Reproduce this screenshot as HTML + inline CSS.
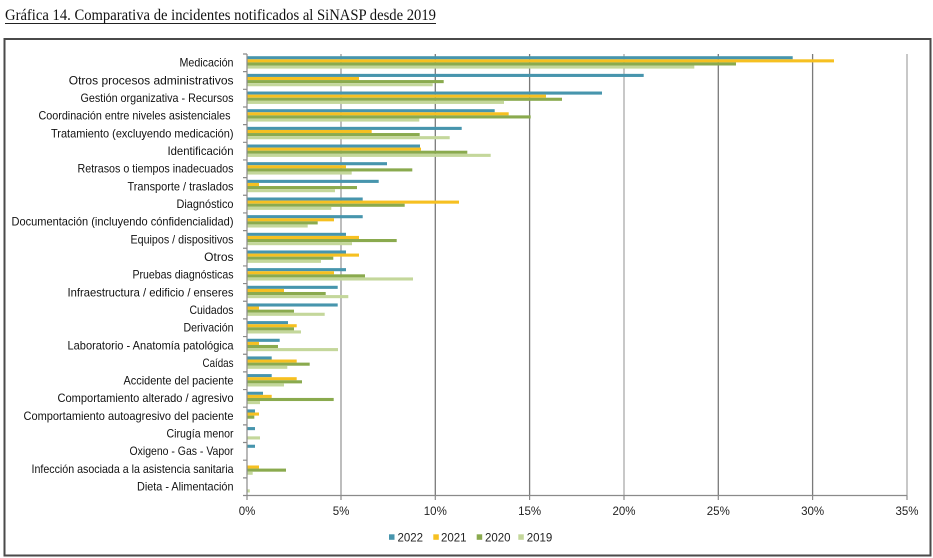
<!DOCTYPE html>
<html><head><meta charset="utf-8"><style>
html,body{margin:0;padding:0;background:#fff;}
svg{display:block;}
.l{font-family:"Liberation Sans",sans-serif;font-size:12px;fill:#111;text-anchor:end;}
.t{font-family:"Liberation Sans",sans-serif;font-size:11.5px;fill:#222;text-anchor:middle;}
.g{font-family:"Liberation Sans",sans-serif;font-size:11.5px;fill:#222;}
.b{fill:#4795ad}.y{fill:#f6c021}.n{fill:#8aaa4e}.p{fill:#c4d79b}
</style></head><body>
<svg width="933" height="558" viewBox="0 0 933 558" xmlns="http://www.w3.org/2000/svg">
<rect width="933" height="558" fill="#fff"/>
<text x="5" y="20" font-family="'Liberation Serif',serif" font-size="15.5" fill="#111" textLength="431" lengthAdjust="spacingAndGlyphs">Gráfica 14. Comparativa de incidentes notificados al SiNASP desde 2019</text>
<line x1="5" y1="23.5" x2="436" y2="23.5" stroke="#222" stroke-width="1"/>
<rect x="4.5" y="39" width="926" height="516.5" fill="none" stroke="#4a4a4a" stroke-width="2"/>

<!-- gridlines -->
<g stroke-width="1.3">
<line x1="341" y1="54" x2="341" y2="495.5" stroke="#9a9a9a"/>
<line x1="435.3" y1="54" x2="435.3" y2="495.5" stroke="#7a7a7a"/>
<line x1="529.6" y1="54" x2="529.6" y2="495.5" stroke="#7a7a7a"/>
<line x1="624" y1="54" x2="624" y2="495.5" stroke="#aaaaaa"/>
<line x1="718.3" y1="54" x2="718.3" y2="495.5" stroke="#7a7a7a"/>
<line x1="812.6" y1="54" x2="812.6" y2="495.5" stroke="#7a7a7a"/>
<line x1="907" y1="54" x2="907" y2="495.5" stroke="#aaaaaa"/>
</g>

<!-- bars -->
<g transform="translate(247.5,54)"><rect class="b" y="2.2" height="3.1" width="545.2"/><rect class="y" y="5.3" height="3.1" width="586.5"/><rect class="n" y="8.4" height="3.1" width="488.5"/><rect class="p" y="11.5" height="3.1" width="446.8"/></g>
<g transform="translate(247.5,71.66)"><rect class="b" y="2.2" height="3.1" width="396.2"/><rect class="y" y="5.3" height="3.1" width="111.5"/><rect class="n" y="8.4" height="3.1" width="196.2"/><rect class="p" y="11.5" height="3.1" width="185.2"/></g>
<g transform="translate(247.5,89.32)"><rect class="b" y="2.2" height="3.1" width="354.5"/><rect class="y" y="5.3" height="3.1" width="298.5"/><rect class="n" y="8.4" height="3.1" width="314.5"/><rect class="p" y="11.5" height="3.1" width="256.5"/></g>
<g transform="translate(247.5,106.98)"><rect class="b" y="2.2" height="3.1" width="247.2"/><rect class="y" y="5.3" height="3.1" width="261.2"/><rect class="n" y="8.4" height="3.1" width="283.2"/><rect class="p" y="11.5" height="3.1" width="171.8"/></g>
<g transform="translate(247.5,124.64)"><rect class="b" y="2.2" height="3.1" width="214.2"/><rect class="y" y="5.3" height="3.1" width="124.2"/><rect class="n" y="8.4" height="3.1" width="172.2"/><rect class="p" y="11.5" height="3.1" width="202.2"/></g>
<g transform="translate(247.5,142.3)"><rect class="b" y="2.2" height="3.1" width="172.5"/><rect class="y" y="5.3" height="3.1" width="173.5"/><rect class="n" y="8.4" height="3.1" width="219.8"/><rect class="p" y="11.5" height="3.1" width="243.2"/></g>
<g transform="translate(247.5,159.96)"><rect class="b" y="2.2" height="3.1" width="139.5"/><rect class="y" y="5.3" height="3.1" width="98.5"/><rect class="n" y="8.4" height="3.1" width="164.8"/><rect class="p" y="11.5" height="3.1" width="104.2"/></g>
<g transform="translate(247.5,177.62)"><rect class="b" y="2.2" height="3.1" width="131.2"/><rect class="y" y="5.3" height="3.1" width="11.5"/><rect class="n" y="8.4" height="3.1" width="109.5"/><rect class="p" y="11.5" height="3.1" width="87.5"/></g>
<g transform="translate(247.5,195.28)"><rect class="b" y="2.2" height="3.1" width="115.2"/><rect class="y" y="5.3" height="3.1" width="211.5"/><rect class="n" y="8.4" height="3.1" width="157.2"/><rect class="p" y="11.5" height="3.1" width="83.8"/></g>
<g transform="translate(247.5,212.94)"><rect class="b" y="2.2" height="3.1" width="115.2"/><rect class="y" y="5.3" height="3.1" width="86.5"/><rect class="n" y="8.4" height="3.1" width="70.2"/><rect class="p" y="11.5" height="3.1" width="60.2"/></g>
<g transform="translate(247.5,230.6)"><rect class="b" y="2.2" height="3.1" width="98.5"/><rect class="y" y="5.3" height="3.1" width="111.5"/><rect class="n" y="8.4" height="3.1" width="149.2"/><rect class="p" y="11.5" height="3.1" width="104.5"/></g>
<g transform="translate(247.5,248.26)"><rect class="b" y="2.2" height="3.1" width="98.5"/><rect class="y" y="5.3" height="3.1" width="111.5"/><rect class="n" y="8.4" height="3.1" width="85.8"/><rect class="p" y="11.5" height="3.1" width="73.5"/></g>
<g transform="translate(247.5,265.92)"><rect class="b" y="2.2" height="3.1" width="98.5"/><rect class="y" y="5.3" height="3.1" width="86.5"/><rect class="n" y="8.4" height="3.1" width="117.5"/><rect class="p" y="11.5" height="3.1" width="165.5"/></g>
<g transform="translate(247.5,283.58)"><rect class="b" y="2.2" height="3.1" width="90.2"/><rect class="y" y="5.3" height="3.1" width="36.5"/><rect class="n" y="8.4" height="3.1" width="78.2"/><rect class="p" y="11.5" height="3.1" width="100.8"/></g>
<g transform="translate(247.5,301.24)"><rect class="b" y="2.2" height="3.1" width="90.2"/><rect class="y" y="5.3" height="3.1" width="11.5"/><rect class="n" y="8.4" height="3.1" width="46.5"/><rect class="p" y="11.5" height="3.1" width="77.2"/></g>
<g transform="translate(247.5,318.9)"><rect class="b" y="2.2" height="3.1" width="40.5"/><rect class="y" y="5.3" height="3.1" width="49.2"/><rect class="n" y="8.4" height="3.1" width="46.5"/><rect class="p" y="11.5" height="3.1" width="53.5"/></g>
<g transform="translate(247.5,336.56)"><rect class="b" y="2.2" height="3.1" width="32.2"/><rect class="y" y="5.3" height="3.1" width="11.5"/><rect class="n" y="8.4" height="3.1" width="30.5"/><rect class="p" y="11.5" height="3.1" width="90.5"/></g>
<g transform="translate(247.5,354.22)"><rect class="b" y="2.2" height="3.1" width="24.2"/><rect class="y" y="5.3" height="3.1" width="49.2"/><rect class="n" y="8.4" height="3.1" width="62.2"/><rect class="p" y="11.5" height="3.1" width="39.8"/></g>
<g transform="translate(247.5,371.88)"><rect class="b" y="2.2" height="3.1" width="24.2"/><rect class="y" y="5.3" height="3.1" width="49.2"/><rect class="n" y="8.4" height="3.1" width="54.5"/><rect class="p" y="11.5" height="3.1" width="36.5"/></g>
<g transform="translate(247.5,389.54)"><rect class="b" y="2.2" height="3.1" width="15.5"/><rect class="y" y="5.3" height="3.1" width="24.2"/><rect class="n" y="8.4" height="3.1" width="86.2"/><rect class="p" y="11.5" height="3.1" width="12.5"/></g>
<g transform="translate(247.5,407.2)"><rect class="b" y="2.2" height="3.1" width="7.5"/><rect class="y" y="5.3" height="3.1" width="11.5"/><rect class="n" y="8.4" height="3.1" width="6.8"/></g>
<g transform="translate(247.5,424.86)"><rect class="b" y="2.2" height="3.1" width="7.5"/><rect class="p" y="11.5" height="3.1" width="12.5"/></g>
<g transform="translate(247.5,442.52)"><rect class="b" y="2.2" height="3.1" width="7.5"/></g>
<g transform="translate(247.5,460.18)"><rect class="y" y="5.3" height="3.1" width="11.5"/><rect class="n" y="8.4" height="3.1" width="38.5"/><rect class="p" y="11.5" height="3.1" width="5.2"/></g>
<g transform="translate(247.5,477.84)"><rect class="p" y="11.5" height="3.1" width="2.3"/></g>

<!-- axes -->
<g stroke="#8a8a8a" stroke-width="1.2">
<line x1="247" y1="54" x2="247" y2="496"/>
<line x1="247" y1="495.5" x2="907" y2="495.5"/>
<path d="M243 54H247M243 71.66H247M243 89.32H247M243 106.98H247M243 124.64H247M243 142.3H247M243 159.96H247M243 177.62H247M243 195.28H247M243 212.94H247M243 230.6H247M243 248.26H247M243 265.92H247M243 283.58H247M243 301.24H247M243 318.9H247M243 336.56H247M243 354.22H247M243 371.88H247M243 389.54H247M243 407.2H247M243 424.86H247M243 442.52H247M243 460.18H247M243 477.84H247M243 495.5H247"/>
<path d="M247 495.5V500M341 495.5V500M435.3 495.5V500M529.6 495.5V500M624 495.5V500M718.3 495.5V500M812.6 495.5V500M907 495.5V500"/>
</g>

<!-- category labels -->
<text class="l" x="233.5" y="66.7" textLength="54" lengthAdjust="spacingAndGlyphs">Medicación</text>
<text class="l" x="233.5" y="84.4">Otros procesos administrativos</text>
<text class="l" x="233.5" y="102" textLength="153" lengthAdjust="spacingAndGlyphs">Gestión organizativa - Recursos</text>
<text class="l" x="230.5" y="119.7" textLength="192" lengthAdjust="spacingAndGlyphs">Coordinación entre niveles asistenciales</text>
<text class="l" x="233.5" y="137.3" textLength="182.5" lengthAdjust="spacingAndGlyphs">Tratamiento (excluyendo medicación)</text>
<text class="l" x="233.5" y="155" textLength="66" lengthAdjust="spacingAndGlyphs">Identificación</text>
<text class="l" x="233.5" y="172.7" textLength="156" lengthAdjust="spacingAndGlyphs">Retrasos o tiempos inadecuados</text>
<text class="l" x="233.5" y="190.3" textLength="106" lengthAdjust="spacingAndGlyphs">Transporte / traslados</text>
<text class="l" x="233.5" y="208" textLength="57" lengthAdjust="spacingAndGlyphs">Diagnóstico</text>
<text class="l" x="233.5" y="225.6" textLength="222" lengthAdjust="spacingAndGlyphs">Documentación (incluyendo cónfidencialidad)</text>
<text class="l" x="233.5" y="243.3" textLength="103" lengthAdjust="spacingAndGlyphs">Equipos / dispositivos</text>
<text class="l" x="233.5" y="261">Otros</text>
<text class="l" x="233.5" y="278.6" textLength="101" lengthAdjust="spacingAndGlyphs">Pruebas diagnósticas</text>
<text class="l" x="233.5" y="296.3" textLength="166" lengthAdjust="spacingAndGlyphs">Infraestructura / edificio / enseres</text>
<text class="l" x="233.5" y="313.9" textLength="44" lengthAdjust="spacingAndGlyphs">Cuidados</text>
<text class="l" x="233.5" y="331.6" textLength="50" lengthAdjust="spacingAndGlyphs">Derivación</text>
<text class="l" x="233.5" y="349.3" textLength="166" lengthAdjust="spacingAndGlyphs">Laboratorio - Anatomía patológica</text>
<text class="l" x="233.5" y="366.9" textLength="31" lengthAdjust="spacingAndGlyphs">Caídas</text>
<text class="l" x="233.5" y="384.6" textLength="110" lengthAdjust="spacingAndGlyphs">Accidente del paciente</text>
<text class="l" x="233.5" y="402.2" textLength="176" lengthAdjust="spacingAndGlyphs">Comportamiento alterado / agresivo</text>
<text class="l" x="233.5" y="419.9" textLength="210" lengthAdjust="spacingAndGlyphs">Comportamiento autoagresivo del paciente</text>
<text class="l" x="233.5" y="437.6" textLength="67" lengthAdjust="spacingAndGlyphs">Cirugía menor</text>
<text class="l" x="233.5" y="455.2" textLength="104" lengthAdjust="spacingAndGlyphs">Oxigeno - Gas - Vapor</text>
<text class="l" x="233.5" y="472.9" textLength="202" lengthAdjust="spacingAndGlyphs">Infección asociada a la asistencia sanitaria</text>
<text class="l" x="233.5" y="490.5" textLength="96.5" lengthAdjust="spacingAndGlyphs">Dieta - Alimentación</text>

<!-- x tick labels -->
<text class="t" x="247" y="515">0%</text>
<text class="t" x="341" y="515">5%</text>
<text class="t" x="435.3" y="515">10%</text>
<text class="t" x="529.6" y="515">15%</text>
<text class="t" x="624" y="515">20%</text>
<text class="t" x="718.3" y="515">25%</text>
<text class="t" x="812.6" y="515">30%</text>
<text class="t" x="907" y="515">35%</text>

<!-- legend -->
<rect class="b" x="389" y="534.3" width="5.5" height="5.5"/>
<text class="g" x="397.5" y="541.5">2022</text>
<rect class="y" x="433.3" y="534.3" width="5.5" height="5.5"/>
<text class="g" x="441" y="541.5">2021</text>
<rect class="n" x="476.7" y="534.3" width="5.5" height="5.5"/>
<text class="g" x="485" y="541.5">2020</text>
<rect class="p" x="518.3" y="534.3" width="5.5" height="5.5"/>
<text class="g" x="526.7" y="541.5">2019</text>
</svg>
</body></html>
